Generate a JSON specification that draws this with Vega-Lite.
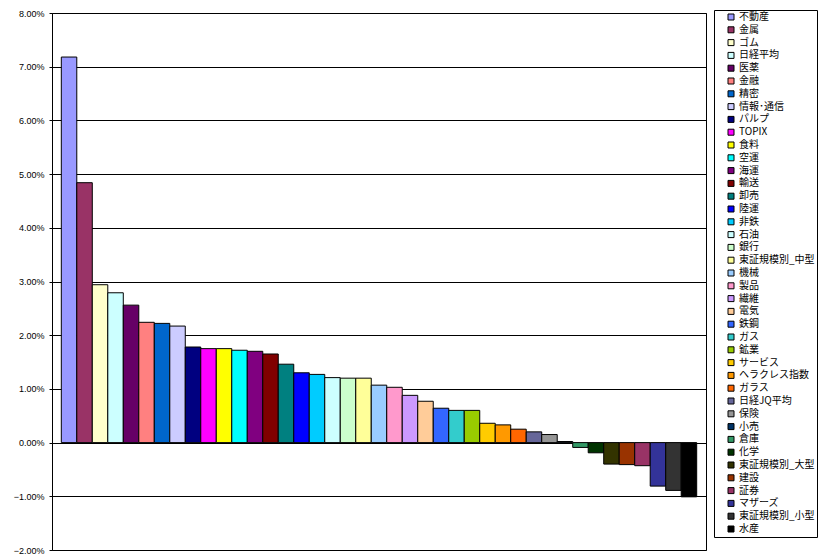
{
  "$schema": "https://vega.github.io/schema/vega-lite/v6.json",
  "width": 654,
  "height": 537,
  "autosize": {"type": "none"},
  "padding": {"left": 52, "top": 13, "right": 121, "bottom": 8},
  "background": "white",
  "config": {
    "view": {"stroke": "black", "strokeWidth": 1},
    "font": "Noto Sans CJK JP"
  },
  "data": {
    "values": [
      {"name": "不動産", "value": 0.0718},
      {"name": "金属", "value": 0.0484},
      {"name": "ゴム", "value": 0.0294},
      {"name": "日経平均", "value": 0.0279},
      {"name": "医薬", "value": 0.0256},
      {"name": "金融", "value": 0.0224},
      {"name": "精密", "value": 0.0222},
      {"name": "情報･通信", "value": 0.0217},
      {"name": "パルプ", "value": 0.0178},
      {"name": "TOPIX", "value": 0.0175},
      {"name": "食料", "value": 0.0175},
      {"name": "空運", "value": 0.0172},
      {"name": "海運", "value": 0.0170},
      {"name": "輸送", "value": 0.0165},
      {"name": "卸売", "value": 0.0146},
      {"name": "陸運", "value": 0.0130},
      {"name": "非鉄", "value": 0.0127},
      {"name": "石油", "value": 0.0121},
      {"name": "銀行", "value": 0.0120},
      {"name": "東証規模別_中型", "value": 0.0120},
      {"name": "機械", "value": 0.0107},
      {"name": "製品", "value": 0.0103},
      {"name": "繊維", "value": 0.0088},
      {"name": "電気", "value": 0.0077},
      {"name": "鉄鋼", "value": 0.0064},
      {"name": "ガス", "value": 0.0060},
      {"name": "鉱業", "value": 0.0060},
      {"name": "サービス", "value": 0.0036},
      {"name": "ヘラクレス指数", "value": 0.0033},
      {"name": "ガラス", "value": 0.0025},
      {"name": "日経JQ平均", "value": 0.0020},
      {"name": "保険", "value": 0.0015},
      {"name": "小売", "value": 0.0002},
      {"name": "倉庫", "value": -0.0009},
      {"name": "化学", "value": -0.0019},
      {"name": "東証規模別_大型", "value": -0.0040},
      {"name": "建設", "value": -0.0041},
      {"name": "証券", "value": -0.0043},
      {"name": "マザーズ", "value": -0.0081},
      {"name": "東証規模別_小型", "value": -0.0089},
      {"name": "水産", "value": -0.0101}
    ]
  },
  "mark": {"type": "bar", "stroke": "black", "strokeWidth": 1},
  "encoding": {
    "x": {
      "field": "name",
      "type": "nominal",
      "sort": null,
      "scale": {"paddingInner": 0, "paddingOuter": 0.6},
      "axis": null
    },
    "y": {
      "field": "value",
      "type": "quantitative",
      "scale": {"domain": [-0.02, 0.08], "nice": false, "zero": false},
      "axis": {
        "title": null,
        "format": ".2%",
        "values": [-0.02, -0.01, 0, 0.01, 0.02, 0.03, 0.04, 0.05, 0.06, 0.07, 0.08],
        "grid": true,
        "gridColor": "black",
        "gridOpacity": 1,
        "gridWidth": 1,
        "domainColor": "black",
        "tickColor": "black",
        "tickSize": 3,
        "labelFont": "Liberation Sans",
        "labelFontSize": 9,
        "labelColor": "black",
        "labelPadding": 5
      }
    },
    "color": {
      "field": "name",
      "type": "nominal",
      "sort": null,
      "scale": {
        "domain": ["不動産","金属","ゴム","日経平均","医薬","金融","精密","情報･通信","パルプ","TOPIX","食料","空運","海運","輸送","卸売","陸運","非鉄","石油","銀行","東証規模別_中型","機械","製品","繊維","電気","鉄鋼","ガス","鉱業","サービス","ヘラクレス指数","ガラス","日経JQ平均","保険","小売","倉庫","化学","東証規模別_大型","建設","証券","マザーズ","東証規模別_小型","水産"],
        "range": ["#9999FF","#993366","#FFFFCC","#CCFFFF","#660066","#FF8080","#0066CC","#CCCCFF","#000080","#FF00FF","#FFFF00","#00FFFF","#800080","#800000","#008080","#0000FF","#00CCFF","#CCFFFF","#CCFFCC","#FFFF99","#99CCFF","#FF99CC","#CC99FF","#FFCC99","#3366FF","#33CCCC","#99CC00","#FFCC00","#FF9900","#FF6600","#666699","#969696","#003366","#339966","#003300","#333300","#993300","#993366","#333399","#333333","#000000"]
      },
      "legend": {
        "title": null,
        "orient": "none",
        "legendX": 662,
        "legendY": -3,
        "strokeColor": "black",
        "fillColor": "white",
        "padding": 2,
        "symbolOffset": 10,
        "symbolType": "square",
        "symbolSize": 36,
        "symbolStrokeColor": "black",
        "symbolStrokeWidth": 1,
        "symbolOpacity": 1,
        "symbolLimit": 0,
        "labelFont": "Noto Sans CJK JP",
        "labelFontSize": 10,
        "labelColor": "black",
        "labelOffset": 3,
        "labelLimit": 200,
        "rowPadding": 2.8,
        "columns": 1
      }
    }
  }
}
